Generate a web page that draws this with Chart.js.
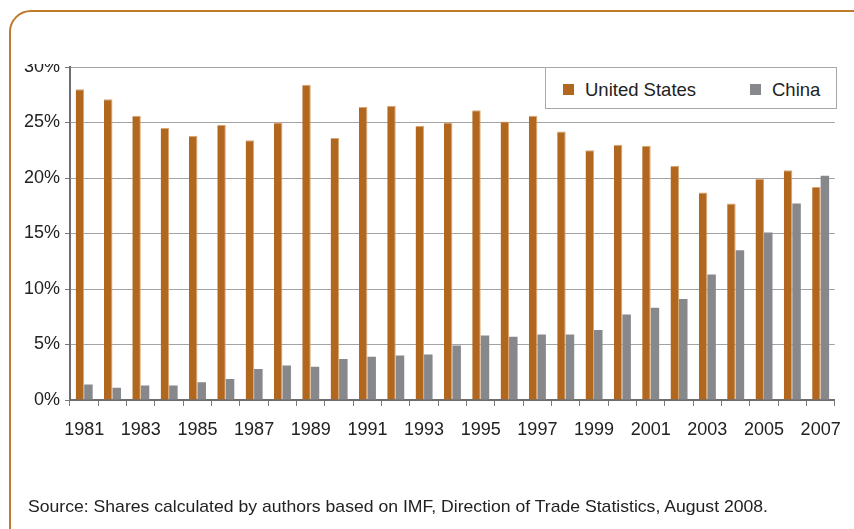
<!DOCTYPE html>
<html>
<head>
<meta charset="utf-8">
<script src="https://cdn.jsdelivr.net/npm/chart.js@4/dist/chart.umd.min.js"></script>
<style>
  html, body { margin: 0; padding: 0; background: #fff; }
  body { width: 854px; height: 529px; position: relative; overflow: hidden;
         font-family: "Liberation Sans", Arial, sans-serif; }
  #frame { position: absolute; left: 9px; top: 10px; width: 880px; height: 540px;
           border: 2px solid #c07a2e; border-radius: 22px; }
  #clip { position: absolute; left: 0; top: 64px; width: 854px; height: 465px; overflow: hidden; }
  #wrap { position: absolute; left: 0; top: -64px; width: 854px; height: 529px; }
  #legend { position: absolute; left: 545px; top: 67px; width: 290px; height: 40px;
            border: 1.5px solid #a8a8a8; background: #fff; font-size: 18.5px; color: #222; }
  .item { position: absolute; top: 11px; line-height: 22px; white-space: nowrap; }
  .sw { display: inline-block; width: 11px; height: 11px; margin-right: 11px; vertical-align: 1px; }
  #source { position: absolute; left: 28px; top: 497px; font-size: 17px; color: #222;
            font-family: "Liberation Sans Narrow", "Liberation Sans", Arial, sans-serif;
            white-space: nowrap; transform-origin: 0 0; }
</style>
</head>
<body>
<div id="frame"></div>
<div id="clip"><div id="wrap"><canvas id="canvas" width="854" height="529"></canvas></div></div>
<div id="legend">
  <div class="item" style="left:17px"><span class="sw" style="background:#b2671f"></span>United States</div>
  <div class="item" style="left:204px"><span class="sw" style="background:#87888c"></span>China</div>
</div>
<div id="source">Source: Shares calculated by authors based on IMF, Direction of Trade Statistics, August 2008.</div>
<script>
const years = ['1981','1982','1983','1984','1985','1986','1987','1988','1989','1990',
  '1991','1992','1993','1994','1995','1996','1997','1998','1999','2000',
  '2001','2002','2003','2004','2005','2006','2007'];

const unitedStates = [28.0, 27.1, 25.6, 24.5, 23.8, 24.8, 23.4, 25.0, 28.4, 23.6,
  26.4, 26.5, 24.7, 25.0, 26.1, 25.1, 25.6, 24.2, 22.5, 23.0,
  22.9, 21.1, 18.7, 17.7, 19.9, 20.7, 19.2];

const china = [1.4, 1.1, 1.3, 1.3, 1.6, 1.9, 2.8, 3.1, 3.0, 3.7,
  3.9, 4.0, 4.1, 4.9, 5.8, 5.7, 5.9, 5.9, 6.3, 7.7,
  8.3, 9.1, 11.3, 13.5, 15.1, 17.7, 20.2];

const yTicks = [0, 5, 10, 15, 20, 25, 30];

// fit the source line to the width it has in the original
const src = document.getElementById('source');
src.style.transform = 'scaleX(' + (740 / src.getBoundingClientRect().width) + ')';

window.onload = () => {
  const ctx = document.getElementById('canvas').getContext('2d');
  new Chart(ctx, {
    type: 'bar',
    data: {
      labels: years,
      datasets: [
        { label: 'United States', data: unitedStates, backgroundColor: '#b2671f',
          borderColor: '#d9a774', borderWidth: {top: 1, right: 1, left: 0, bottom: 0} },
        { label: 'China', data: china, backgroundColor: '#87888c' }
      ]
    },
    options: {
      responsive: false,
      animation: false,
      events: [],
      layout: { padding: { left: 0, right: 18, top: 67, bottom: 89 } },
      datasets: { bar: { categoryPercentage: 0.6, barPercentage: 1.0 } },
      plugins: { legend: { display: false }, tooltip: { enabled: false } },
      scales: {
        x: {
          offset: true,
          afterFit: (s) => { s.height = 40; },
          grid: { display: true, offset: true, drawOnChartArea: false, drawTicks: true,
                  tickLength: 6, tickColor: '#7a7a7a', tickWidth: 1 },
          border: { display: true, color: '#6e6e6e', width: 2 },
          ticks: {
            autoSkip: false, maxRotation: 0, padding: 13, color: '#222',
            font: { family: 'Liberation Sans', size: 18 },
            callback: function (v, i) { return i % 2 === 0 ? years[i] : ''; }
          }
        },
        y: {
          min: 0, max: 30,
          afterFit: (s) => { s.width = 70; },
          afterBuildTicks: (s) => { s.ticks = yTicks.map(v => ({ value: v })); },
          grid: { color: '#a3a3a3', lineWidth: 1, tickLength: 5, tickColor: '#7a7a7a' },
          border: { display: true, color: '#6e6e6e', width: 2 },
          ticks: {
            padding: 5, color: '#222',
            font: { family: 'Liberation Sans', size: 18 },
            callback: (v) => v + '%'
          }
        }
      }
    }
  });
};
</script>
</body>
</html>
